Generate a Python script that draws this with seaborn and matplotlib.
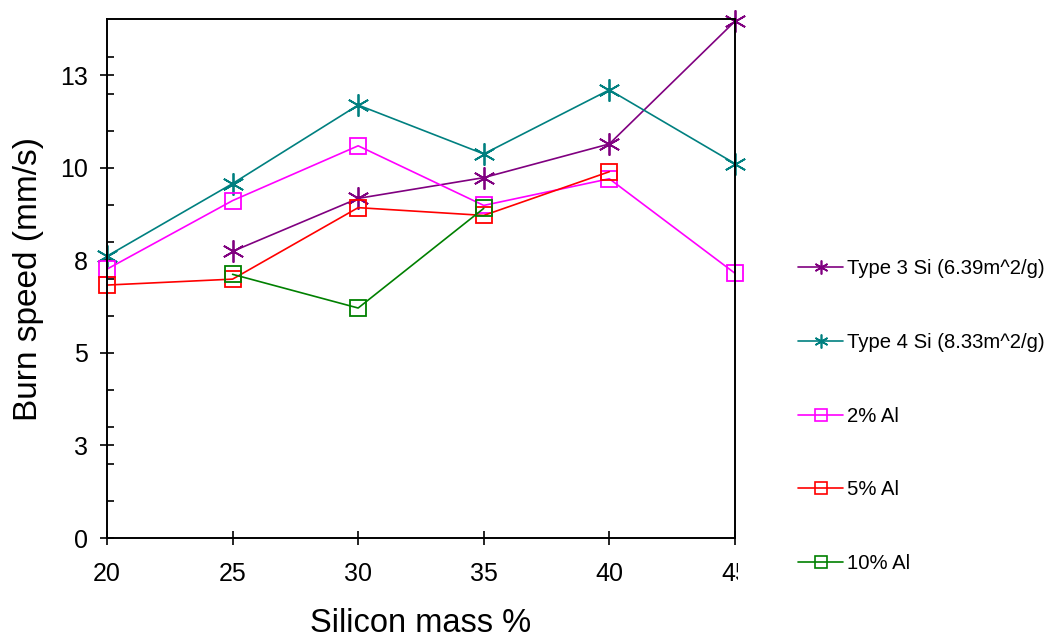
import numpy as np
import pandas as pd
import matplotlib
matplotlib.use('Agg')
import matplotlib.pyplot as plt
from matplotlib.lines import Line2D
from matplotlib.transforms import Bbox, TransformedBbox
import seaborn as sns

# data
silicon_mass = [20, 25, 30, 35, 40, 45]
type3_si = [np.nan, 7.74, 9.17, 9.73, 10.64, 13.95]
type4_si = [7.61, 9.57, 11.69, 10.37, 12.10, 10.11]
al_2 = [7.26, 9.11, 10.59, 8.98, 9.70, 7.15]
al_5 = [6.83, 6.99, 8.92, 8.71, 9.89, np.nan]
al_10 = [np.nan, 7.12, 6.21, 8.90, np.nan, np.nan]

series_names = ['Type 3 Si (6.39m^2/g)', 'Type 4 Si (8.33m^2/g)',
                '2% Al', '5% Al', '10% Al']
series_values = [type3_si, type4_si, al_2, al_5, al_10]
series_colors = ['#800080', '#008080', '#FF00FF', '#FF0000', '#008000']
series_markers = [(6, 2, 0), (6, 2, 0), 's', 's', 's']

y_major = [0, 2.5, 5, 7.5, 10, 12.5]
y_labels = ['0', '3', '5', '8', '10', '13']
y_minor = list(range(1, 14))

rows = []
for name, vals in zip(series_names, series_values):
    for x, y in zip(silicon_mass, vals):
        rows.append({'Silicon mass %': x, 'Burn speed': y, 'series': name})
df = pd.DataFrame(rows).dropna()

sns.set_theme(style='white')
plt.rcParams['font.family'] = ['Liberation Sans', 'DejaVu Sans']
plt.rcParams['text.color'] = 'black'

fig = plt.figure(figsize=(10.5, 6.39), dpi=100)
ax = fig.add_axes([0.1019, 0.158, 0.598, 0.8115])

for name, color, marker in zip(series_names, series_colors, series_markers):
    sub = df[df['series'] == name]
    is_star = marker != 's'
    sns.lineplot(data=sub, x='Silicon mass %', y='Burn speed', ax=ax,
                 color=color, marker=marker, markersize=16 if is_star else 11,
                 markerfacecolor='none' if not is_star else color,
                 markeredgecolor=color, markeredgewidth=1.3,
                 linewidth=1.2, clip_on=False, legend=False)

ax.set_xlim(20, 45)
ax.set_ylim(0, 14)
ax.set_xticks(silicon_mass)
ax.set_yticks(y_major)
ax.set_yticklabels(y_labels)
ax.set_yticks(y_minor, minor=True)

for side in ['left', 'right', 'top', 'bottom']:
    ax.spines[side].set_color('black')
    ax.spines[side].set_linewidth(1.4)

ax.tick_params(axis='both', which='major', direction='inout', length=10,
               width=1.2, colors='black', labelsize=18, bottom=True, left=True)
ax.tick_params(axis='x', which='major', pad=12)
ax.tick_params(axis='y', which='major', pad=9)
ax.tick_params(axis='y', which='minor', direction='in', length=5,
               width=1.2, colors='black', left=True)
ax.tick_params(axis='x', which='minor', bottom=False)

ax.set_xlabel('Silicon mass %', fontsize=23.5, labelpad=16, color='black')
ax.set_ylabel('Burn speed (mm/s)', fontsize=24, labelpad=11, color='black')

# the last x tick label is cut off in the original
clip = TransformedBbox(Bbox([[0, 0], [738 / 1050, 1]]), fig.transFigure)
for tick in ax.xaxis.get_major_ticks():
    tick.label1.set_clip_on(True)
    tick.label1.set_clip_box(clip)

handles = []
for name, color, marker in zip(series_names, series_colors, series_markers):
    is_star = marker != 's'
    handles.append(Line2D([], [], color=color, marker=marker, linewidth=1.2,
                          markersize=10 if is_star else 8,
                          markerfacecolor='none' if not is_star else color,
                          markeredgecolor=color, markeredgewidth=1.2))
fig.legend(handles, series_names, loc='upper left',
           bbox_to_anchor=(0.752, 0.607), frameon=False, fontsize=14.6,
           handlelength=2.25, handletextpad=0.2, labelspacing=2.7,
           borderaxespad=0, labelcolor='black')

fig.savefig('out.png', dpi=100)
